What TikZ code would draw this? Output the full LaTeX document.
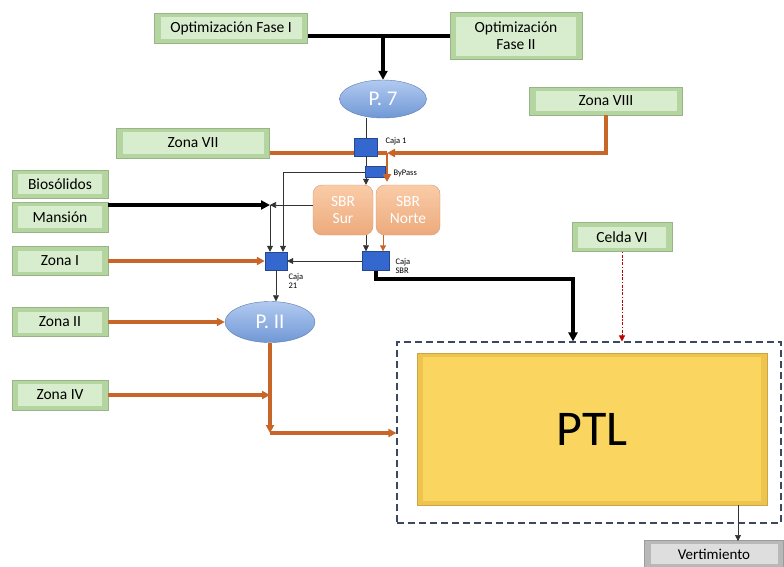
\documentclass[tikz,border=0pt]{standalone}
\usepackage{fontspec}
\setmainfont{Carlito}
\usetikzlibrary{shapes.geometric,arrows.meta}
\definecolor{verdeC}{RGB}{216,237,206}
\definecolor{verdeO}{RGB}{180,213,160}
\definecolor{azulC}{RGB}{178,202,240}
\definecolor{azulO}{RGB}{112,152,214}
\definecolor{cajaAzul}{RGB}{52,104,206}
\definecolor{sbrC}{RGB}{250,204,168}
\definecolor{sbrO}{RGB}{236,170,124}
\definecolor{naranja}{RGB}{200,102,42}
\definecolor{amarillo}{RGB}{250,214,96}
\definecolor{amarilloO}{RGB}{238,196,78}
\definecolor{grisC}{RGB}{222,222,222}
\definecolor{grisO}{RGB}{184,184,184}
\definecolor{marcoGris}{RGB}{60,72,96}
\tikzset{
  bisel/.style 2 args={fill=#2, draw=#2!85!black, path picture={
      \fill[#1] ([shift={(6pt,-4pt)}]path picture bounding box.north west)
        rectangle ([shift={(-6pt,4pt)}]path picture bounding box.south east);}},
  zona/.style={bisel={verdeC}{verdeO}, inner sep=0pt, font=\fontsize{15.5}{17}\selectfont},
  pozo/.style={ellipse, top color=azulC, bottom color=azulO, draw=azulO!80!black,
      text=white, inner sep=0pt, font=\fontsize{21}{23}\selectfont},
  caja/.style={fill=cajaAzul, draw=cajaAzul!70!black, inner sep=0pt},
  reactor/.style={rounded corners=9pt, top color=sbrC, bottom color=sbrO, draw=sbrO!90!black,
      text=white, align=center, font=\fontsize{15.5}{17}\selectfont, minimum height=50pt},
  rotulo/.style={anchor=west, align=left, font=\fontsize{8.5}{9}\selectfont},
  naranjo/.style={color=naranja, line width=3.2pt, >={Triangle[length=8pt,width=8pt]}},
  grueso/.style={line width=3.2pt, >={Triangle[length=9pt,width=9pt]}},
  fino/.style={color=black!80, line width=0.7pt}
}
\begin{document}
\begin{tikzpicture}[x=1pt,y=-1pt,>={Triangle[length=6pt,width=6pt]}]
\useasboundingbox (0,0) rectangle (784,566);
\node[zona, minimum width=153pt, minimum height=30pt] (optA) at (231,28) {Optimización Fase I};
\node[zona, minimum width=132pt, minimum height=47pt, align=center] (optB) at (516,36) {Optimización\\Fase II};
\node[pozo, minimum width=87pt, minimum height=38pt] (p7) at (383,99) {P. 7};
\node[zona, minimum width=153pt, minimum height=28pt] (zVIII) at (606,101) {Zona VIII};
\node[zona, minimum width=153pt, minimum height=30pt] (zVII) at (193,143) {Zona VII};
\node[caja, minimum width=23pt, minimum height=18pt] (caja1) at (366,147) {};
\node[caja, minimum width=20pt, minimum height=11pt] (bypass) at (375,172) {};
\node[reactor, minimum width=60pt] (sbrSur) at (343,210) {SBR\\Sur};
\node[reactor, minimum width=64pt] (sbrNorte) at (408,210) {SBR\\Norte};
\node[zona, minimum width=96pt, minimum height=28pt] (bio) at (60,184) {Biosólidos};
\node[zona, minimum width=96pt, minimum height=30pt] (mansion) at (60,217) {Mansión};
\node[zona, minimum width=96pt, minimum height=29pt] (zI) at (60,261) {Zona I};
\node[caja, minimum width=22pt, minimum height=18pt] (caja21) at (276,261) {};
\node[caja, minimum width=27pt, minimum height=19pt] (cajaSBR) at (376,261) {};
\node[zona, minimum width=100pt, minimum height=29pt] (celda) at (622,237) {Celda VI};
\node[zona, minimum width=96pt, minimum height=29pt] (zII) at (60,322) {Zona II};
\node[pozo, minimum width=90pt, minimum height=41pt] (p2) at (270,322) {P. II};
\node[zona, minimum width=96pt, minimum height=30pt] (zIV) at (60,395) {Zona IV};
\node[draw=marcoGris, line width=1.1pt, dash pattern=on 7pt off 4pt,
      minimum width=384pt, minimum height=181pt] (marco) at (589,432.5) {};
\node[bisel={amarillo}{amarilloO}, minimum width=350pt, minimum height=152pt,
      font=\fontsize{50}{56}\selectfont] (ptl) at (592,429) {PTL};
\node[bisel={grisC}{grisO}, minimum width=139pt, minimum height=28pt,
      font=\fontsize{15}{17}\selectfont] (vert) at (714,554) {Vertimiento};
\node[rotulo] (lCaja1) at (382,141) {Caja 1};
\node[rotulo] (lBypass) at (390,173) {ByPass};
\node[rotulo] (lCaja21) at (285,281) {Caja\\21};
\node[rotulo] (lCajaSBR) at (392,266) {Caja\\SBR};

\coordinate (jOr) at (387,153);
\coordinate (jM) at (270,205);
\coordinate (kink) at (573,279);
\coordinate (jIV) at (270,395);
\coordinate (jC) at (270,433);
\coordinate (vin) at (738,541);

\draw[grueso] (optA.east |- optB.west) -- (optB.west);
\draw[grueso,->] (p7.north |- optB.west) -- (p7.north);
\draw[fino] (caja1.north |- p7.south) -- (caja1.north);
\draw[naranjo] ([yshift=-10pt]zVII.east) -- (caja1.west |- jOr);
\draw[naranjo] (caja1.east |- jOr) -- (jOr);
\draw[naranjo,->] (zVIII.south) |- (jOr);
\draw[naranjo,->,line width=2.4pt] (jOr) -- ++(0,29);
\draw[fino] (caja1.south) -- (caja1.south |- bypass.north);
\draw[fino,->] (caja1.south |- bypass.south) -- (caja1.south |- sbrSur.north);
\draw[fino,->] (bypass.west) -| ([xshift=7pt]caja21.north);
\draw[fino,->] (sbrSur.west |- jM) -- (jM);
\draw[grueso,->] (mansion.east |- jM) -- (jM);
\draw[fino,->] (jM) -- ([xshift=-6pt]caja21.north);
\draw[naranjo,->] (zI.east) -- (caja21.west);
\draw[fino,->] (cajaSBR.west) -- (caja21.east);
\draw[fino,->] (caja1.south |- sbrSur.south) -- (caja1.south |- cajaSBR.north);
\draw[->,color=naranja,line width=1pt] ([xshift=7pt]cajaSBR.north |- sbrNorte.south) -- ([xshift=7pt]cajaSBR.north);
\draw[grueso,->] (cajaSBR.south) |- (kink) -- (kink |- marco.north);
\draw[->,color=red!75!black,line width=0.8pt,dash pattern=on 1.5pt off 1.5pt on 3pt off 1.5pt] (celda.south) -- (celda.south |- marco.north);
\draw[fino,->] (caja21.south) -- (caja21.south |- p2.north);
\draw[naranjo,->] (zII.east) -- (p2.west);
\draw[naranjo,->] (zIV.east) -- (jIV);
\draw[naranjo,->] (p2.south) -- (jC);
\draw[naranjo,->] (jC) -- (jC -| marco.west);
\draw[fino,->] (vin |- ptl.south) -- (vin);
\end{tikzpicture}
\end{document}
